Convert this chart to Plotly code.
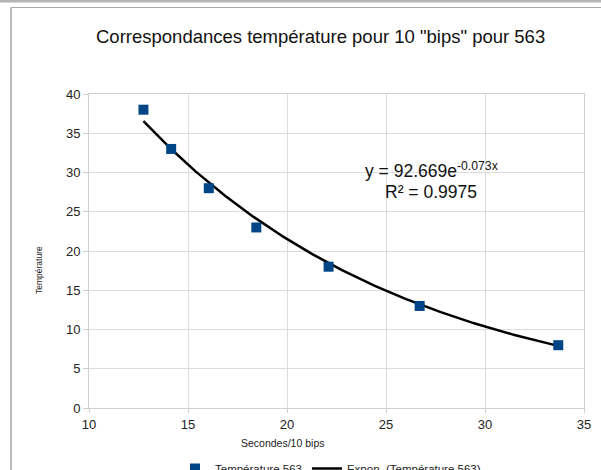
import numpy as np
import plotly.graph_objects as go

# Data
secondes = [12.75, 14.15, 16.05, 18.45, 22.1, 26.7, 33.7]
temperature = [38, 33, 28, 23, 18, 13, 8]

# Exponential trendline coefficients (shown on chart)
coef_a = 92.669
coef_b = -0.073
r2 = 0.9975

x_ticks = [10, 15, 20, 25, 30, 35]
y_ticks = [0, 5, 10, 15, 20, 25, 30, 35, 40]

title = 'Correspondances température pour 10 "bips" pour 563'
series_name = "Température 563"
trend_name = "Expon. (Température 563)"

xt = np.linspace(min(secondes), max(secondes), 200)
yt = coef_a * np.exp(coef_b * xt)

FONT = "Liberation Sans, Arial, sans-serif"
PW, PH = 495, 314  # plot area size in px


def px(X):
    return (X - 89) / PW


def py(Y):
    return (408 - Y) / PH


fig = go.Figure()
fig.add_trace(go.Scatter(
    x=xt, y=yt, mode="lines", name=trend_name,
    line=dict(color="#000000", width=2.5), hoverinfo="skip"))
fig.add_trace(go.Scatter(
    x=secondes, y=temperature, mode="markers", name=series_name,
    marker=dict(symbol="square", size=10, color="#004586",
                line=dict(width=0))))

fig.update_layout(
    width=601, height=470,
    margin=dict(l=89, r=17, t=94, b=62, autoexpand=False),
    paper_bgcolor="white", plot_bgcolor="white",
    font=dict(family=FONT, color="#222222"),
    showlegend=True,
    legend=dict(orientation="h", x=px(175), xanchor="left", y=py(454), yanchor="top",
                font=dict(size=11.5, color="#222222"), traceorder="reversed",
                itemwidth=30),
    xaxis=dict(range=[10, 35], tickvals=x_ticks, showgrid=True,
               gridcolor="#dcdcdc", gridwidth=1, zeroline=False,
               showline=True, linecolor="#cfcfcf", mirror=True,
               ticks="outside", ticklen=4, tickcolor="#cfcfcf",
               tickfont=dict(size=13, color="#222222")),
    yaxis=dict(range=[0, 40], tickvals=y_ticks, showgrid=True,
               gridcolor="#dcdcdc", gridwidth=1, zeroline=False,
               showline=True, linecolor="#cfcfcf", mirror=True,
               ticks="outside", ticklen=5, tickcolor="#cfcfcf",
               tickfont=dict(size=13, color="#222222")),
    annotations=[
        dict(text=title, xref="paper", yref="paper", x=px(320),
             y=py(36), xanchor="center", yanchor="middle",
             showarrow=False, font=dict(size=18.5, color="#111111")),
        dict(text="Secondes/10 bips", xref="paper", yref="paper",
             x=px(282), y=py(443), xanchor="center",
             yanchor="middle", showarrow=False,
             font=dict(size=10.5, color="#222222")),
        dict(text="Température", xref="paper", yref="paper",
             x=px(39), y=py(270), xanchor="center",
             yanchor="middle", textangle=-90, showarrow=False,
             font=dict(size=8.5, color="#222222")),
        dict(text=f"y = {coef_a}e<sup>{coef_b}x</sup>", xref="paper", yref="paper",
             x=px(431), y=py(182.5), xanchor="center",
             yanchor="bottom", showarrow=False,
             font=dict(size=17.5, color="#111111")),
        dict(text=f"R² = {r2}", xref="paper", yref="paper",
             x=px(431), y=py(179.5), xanchor="center",
             yanchor="top", showarrow=False,
             font=dict(size=17.5, color="#111111")),
    ],
    shapes=[
        dict(type="rect", xref="paper", yref="paper",
             x0=px(0), x1=px(601), y0=py(2.5), y1=py(0),
             fillcolor="#b4b4b4", line=dict(width=0), layer="above"),
        dict(type="line", xref="paper", yref="paper",
             x0=px(11), x1=px(601), y0=py(7.5), y1=py(7.5),
             line=dict(color="#a8a8a8", width=1), layer="above"),
        dict(type="line", xref="paper", yref="paper",
             x0=px(11), x1=px(11), y0=py(7.5), y1=py(470),
             line=dict(color="#b8b8b8", width=2), layer="above"),
    ],
)

fig.write_html("out.html", config={"displayModeBar": False},
               post_script="document.body.style.margin='0';")
